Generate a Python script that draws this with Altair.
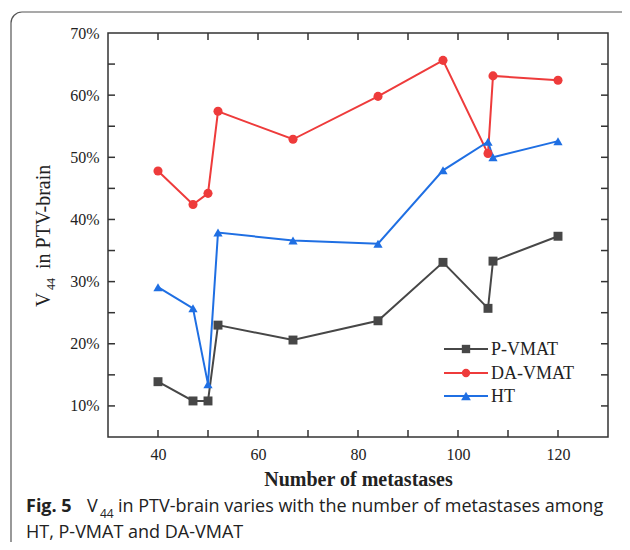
import altair as alt
import pandas as pd

# ---- data ----
metastases = [40, 47, 50, 52, 67, 84, 97, 106, 107, 120]
p_vmat = [13.9, 10.8, 10.8, 23.0, 20.6, 23.7, 33.1, 25.7, 33.3, 37.3]
da_vmat = [47.8, 42.4, 44.2, 57.4, 52.9, 59.8, 65.6, 50.6, 63.1, 62.4]
ht = [29.1, 25.7, 13.5, 37.9, 36.6, 36.1, 47.9, 52.5, 50.0, 52.6]

series_names = ["P-VMAT", "DA-VMAT", "HT"]
series_colors = ["#474747", "#ee3b3b", "#1f6fe3"]
series_shapes = ["square", "circle", "triangle-up"]
series_sizes = [80, 85, 115]

x_tick_values = [40, 50, 60, 70, 80, 90, 100, 110, 120]
x_label_values = [40, 60, 80, 100, 120]
y_tick_values = [10, 15, 20, 25, 30, 35, 40, 45, 50, 55, 60, 65]
y_label_values = [10, 20, 30, 40, 50, 60, 70]

caption_bold = "Fig. 5"
caption_rest = "in PTV-brain varies with the number of metastases among"
caption_line2 = "HT, P-VMAT and DA-VMAT"

# ---- tables ----
rows = []
for name, vals in zip(series_names, [p_vmat, da_vmat, ht]):
    for xv, yv in zip(metastases, vals):
        rows.append({"series": name, "x": xv, "y": yv})
df = pd.DataFrame(rows)
one = pd.DataFrame({"a": [0]})

W, H = 500, 404
AX = "#333333"
SERIF = "Liberation Serif"
SANS = "Open Sans"

xscale = alt.Scale(domain=[30, 130], nice=False, zero=False)
yscale = alt.Scale(domain=[5, 70], nice=False, zero=False)
cscale = alt.Scale(domain=series_names, range=series_colors)
sscale = alt.Scale(domain=series_names, range=series_shapes)
zscale = alt.Scale(domain=series_names, range=series_sizes)

x_enc = alt.X("x:Q", scale=xscale, axis=alt.Axis(
    values=x_label_values, ticks=False, domain=False, grid=False,
    labelFont=SERIF, labelFontSize=16, labelColor="#222", labelPadding=9,
    title="Number of metastases", titleFont=SERIF, titleFontSize=20,
    titleFontWeight="bold", titleColor="#222", titlePadding=7))
y_enc = alt.Y("y:Q", scale=yscale, axis=alt.Axis(
    values=y_label_values, ticks=False, domain=False, grid=False,
    labelExpr="datum.value + '%'",
    labelFont=SERIF, labelFontSize=16, labelColor="#222", labelPadding=9,
    title=None))

border = alt.Chart(one).mark_rect(
    fillOpacity=0, stroke="#555555", strokeWidth=1.2, cornerRadius=11
).encode(x=alt.value(-97), x2=alt.value(525), y=alt.value(-21), y2=alt.value(560))

lines = alt.Chart(df).mark_line(strokeWidth=2).encode(
    x=x_enc, y=y_enc,
    color=alt.Color("series:N", scale=cscale, legend=None),
    detail="series:N", order="x:Q")

points = alt.Chart(df).mark_point(filled=True, opacity=1).encode(
    x=alt.X("x:Q", scale=xscale), y=alt.Y("y:Q", scale=yscale),
    color=alt.Color("series:N", scale=cscale, legend=None),
    shape=alt.Shape("series:N", scale=sscale, legend=None),
    size=alt.Size("series:N", scale=zscale, legend=None))

xt = pd.DataFrame({"x": x_tick_values})
yt = pd.DataFrame({"y": y_tick_values})
tick_style = dict(color=AX, strokeWidth=1.5)
tb = alt.Chart(xt).mark_rule(**tick_style).encode(
    x=alt.X("x:Q", scale=xscale), y=alt.value(H), y2=alt.value(H - 7))
tt = alt.Chart(xt).mark_rule(**tick_style).encode(
    x=alt.X("x:Q", scale=xscale), y=alt.value(0), y2=alt.value(7))
tl = alt.Chart(yt).mark_rule(**tick_style).encode(
    y=alt.Y("y:Q", scale=yscale), x=alt.value(0), x2=alt.value(7))
tr = alt.Chart(yt).mark_rule(**tick_style).encode(
    y=alt.Y("y:Q", scale=yscale), x=alt.value(W), x2=alt.value(W - 7))

# ---- manual legend (line + marker + label) ----
legend_layers = []
leg_rows_y = [316, 340, 363]
for name, col, shp, ly in zip(series_names, series_colors, series_shapes, leg_rows_y):
    d = pd.DataFrame({"series": [name]})
    legend_layers.append(alt.Chart(d).mark_rule(color=col, strokeWidth=2).encode(
        x=alt.value(336), x2=alt.value(380), y=alt.value(ly)))
    legend_layers.append(alt.Chart(d).mark_point(
        filled=True, opacity=1, color=col, shape=shp, size=70 if shp != "triangle-up" else 95
    ).encode(x=alt.value(358), y=alt.value(ly)))
    legend_layers.append(alt.Chart(d).mark_text(
        align="left", baseline="middle", font=SERIF, fontSize=18, color="#222"
    ).encode(x=alt.value(383), y=alt.value(ly + 1), text="series:N"))

# ---- y title with subscript (rotated) ----
yt_v = alt.Chart(one).mark_text(angle=270, align="left", baseline="alphabetic",
    font=SERIF, fontSize=20, color="#222", text="V").encode(
    x=alt.value(-58), y=alt.value(274))
yt_sub = alt.Chart(one).mark_text(angle=270, align="left", baseline="alphabetic",
    font=SERIF, fontSize=12, color="#222", text="44").encode(
    x=alt.value(-53), y=alt.value(257))
yt_rest = alt.Chart(one).mark_text(angle=270, align="left", baseline="alphabetic",
    font=SERIF, fontSize=20, color="#222", text="in PTV-brain").encode(
    x=alt.value(-58), y=alt.value(236))

# ---- caption ----
cap1 = alt.Chart(one).mark_text(align="left", baseline="alphabetic", font=SANS,
    fontSize=18, fontWeight="bold", color="#222", text=caption_bold).encode(
    x=alt.value(-82), y=alt.value(479))
cap_v = alt.Chart(one).mark_text(align="left", baseline="alphabetic", font=SANS,
    fontSize=18, color="#222", text="V").encode(x=alt.value(-21), y=alt.value(479))
cap_sub = alt.Chart(one).mark_text(align="left", baseline="alphabetic", font=SANS,
    fontSize=12, color="#222", text="44").encode(x=alt.value(-8), y=alt.value(485))
cap_rest = alt.Chart(one).mark_text(align="left", baseline="alphabetic", font=SANS,
    fontSize=18, color="#222", text=caption_rest).encode(x=alt.value(10), y=alt.value(479))
cap2 = alt.Chart(one).mark_text(align="left", baseline="alphabetic", font=SANS,
    fontSize=18, color="#222", text=caption_line2).encode(x=alt.value(-82), y=alt.value(505))

chart = alt.layer(
    border, tb, tt, tl, tr, lines, points, *legend_layers,
    yt_v, yt_sub, yt_rest, cap1, cap_v, cap_sub, cap_rest, cap2
).properties(
    width=W, height=H,
    padding={"left": 100, "top": 25, "right": 14, "bottom": 105},
    autosize=alt.AutoSizeParams(type="none"),
    background="white",
).configure_view(stroke=AX, strokeWidth=1.5)

chart.save("out.html", embed_options={"renderer": "svg", "actions": False})
